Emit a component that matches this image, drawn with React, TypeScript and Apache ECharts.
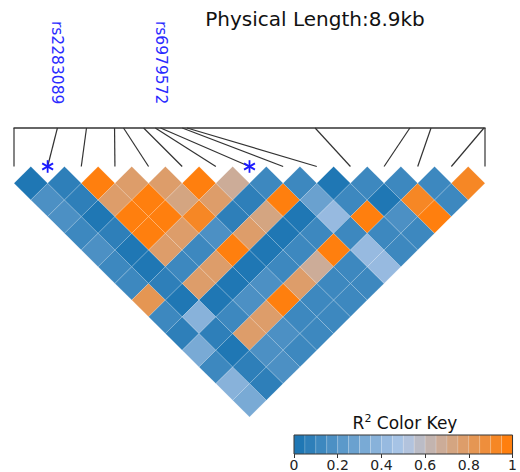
import { useEffect, useRef } from 'react';
import * as echarts from 'echarts';

// ---------------- data ----------------
const TITLE = 'Physical Length:8.9kb';
const REGION_LENGTH_BP = 8900;
// physical positions of the 15 SNPs (bp from the first SNP)
const SNP_POSITIONS_BP = [0, 820, 1370, 1900, 2070, 2450, 2670, 2770, 3180, 3270, 5690, 7480, 7880, 8880, 8900];
const LABELED_SNPS = [1, 7];
const LABELED_NAMES = ['rs2283089', 'rs6979572'];
// R2_ROWS[i] = r² of pairs (i, i+1) ... (i, 14)
const R2_ROWS: number[][] = [
  [0.02, 0.17, 0.17, 0.12, 0.17, 0.12, 0.12, 0.84, 0.12, 0.05, 0.32, 0.12, 0.37, 0.32],
  [0.07, 0.08, 0.02, 0.08, 0.02, 0.02, 0.09, 0.03, 0.37, 0.07, 0.02, 0.07, 0.05],
  [0.97, 0.76, 0.97, 0.97, 0.76, 0.12, 0.76, 0.04, 0.12, 0.76, 0.17, 0.17],
  [0.76, 0.97, 0.97, 0.76, 0.1, 0.76, 0.03, 0.17, 0.76, 0.17, 0.12],
  [0.76, 0.74, 0.92, 0.17, 0.97, 0.04, 0.17, 0.96, 0.12, 0.14],
  [0.97, 0.75, 0.09, 0.76, 0.04, 0.13, 0.76, 0.13, 0.14],
  [0.66, 0.05, 0.7, 0.03, 0.12, 0.66, 0.12, 0.12],
  [0.12, 0.97, 0.03, 0.12, 0.97, 0.12, 0.12],
  [0.12, 0.28, 0.42, 0.12, 0.42, 0.41],
  [0.03, 0.12, 0.97, 0.12, 0.12],
  [0.12, 0.03, 0.17, 0.12],
  [0.12, 0.9, 0.97],
  [0.12, 0.12],
  [0.9],
];
const KEY_TICKS = [0, 0.2, 0.4, 0.6, 0.8, 1];
const COLOR_ANCHORS = ['#1f77b4', '#aec7e8', '#ff7f0e'];
const N_COLOR_BINS = 20;

// ---------------- layout ----------------
const FONT = 'DejaVu Sans';
const MAP_LEFT = 14;
const MAP_RIGHT = 485;
const APEX_Y = 166.5;
const V_UNIT = 33.4;
const Y_MIN = -4.5;
const Y_MAX = 7.5;
const BAR_Y = -1.153;
const LABEL_Y = -4.36;
const KEY_BOX = { left: 294, top: 435, width: 222, height: 21 };

function hexToRgb(h: string) {
  const n = parseInt(h.slice(1), 16);
  return [(n >> 16) & 255, (n >> 8) & 255, n & 255];
}
function cmap(t: number) {
  const a = t <= 0.5 ? hexToRgb(COLOR_ANCHORS[0]) : hexToRgb(COLOR_ANCHORS[1]);
  const b = t <= 0.5 ? hexToRgb(COLOR_ANCHORS[1]) : hexToRgb(COLOR_ANCHORS[2]);
  const f = t <= 0.5 ? t / 0.5 : (t - 0.5) / 0.5;
  const c = a.map((v, k) => Math.round(v + (b[k] - v) * f));
  return `rgb(${c[0]},${c[1]},${c[2]})`;
}

export default function App() {
  const ref = useRef<HTMLDivElement>(null);
  useEffect(() => {
    if (!ref.current) return;
    const chart = echarts.init(ref.current, undefined, { renderer: 'svg' });
    const nSnp = SNP_POSITIONS_BP.length;
    const cells: number[][] = [];
    R2_ROWS.forEach((row, i) => row.forEach((v, k) => cells.push([i, i + 1 + k, v])));
    const pieces = Array.from({ length: N_COLOR_BINS }, (_, k) => {
      const p: any = { gte: k / N_COLOR_BINS, color: cmap(k / (N_COLOR_BINS - 1)) };
      if (k === N_COLOR_BINS - 1) p.lte = 1; else p.lt = (k + 1) / N_COLOR_BINS;
      return p;
    });
    const bins = Array.from({ length: N_COLOR_BINS }, (_, k) => [k / N_COLOR_BINS, (k + 1) / N_COLOR_BINS, (k + 0.5) / N_COLOR_BINS]);
    const physToIdx = (bp: number) => (bp / REGION_LENGTH_BP) * (nSnp - 1);

    const option: any = {
      animation: false,
      backgroundColor: '#ffffff',
      grid: [
        {
          left: MAP_LEFT,
          width: MAP_RIGHT - MAP_LEFT,
          top: APEX_Y + Y_MIN * V_UNIT,
          height: (Y_MAX - Y_MIN) * V_UNIT,
        },
        { left: KEY_BOX.left, top: KEY_BOX.top, width: KEY_BOX.width, height: KEY_BOX.height },
      ],
      xAxis: [
        { type: 'value', gridIndex: 0, min: 0, max: nSnp - 1, show: false },
        {
          type: 'value',
          gridIndex: 1,
          min: 0,
          max: 1,
          interval: 0.2,
          axisLine: { show: false },
          splitLine: { show: false },
          axisTick: { show: true, length: 4, lineStyle: { color: '#333', width: 1 }, customValues: KEY_TICKS },
          axisLabel: { fontSize: 14, color: '#222', fontFamily: FONT, margin: 4, customValues: KEY_TICKS },
        },
      ],
      yAxis: [
        { type: 'value', gridIndex: 0, min: Y_MIN, max: Y_MAX, inverse: true, show: false },
        { type: 'value', gridIndex: 1, min: 0, max: 1, show: false },
      ],
      visualMap: {
        type: 'piecewise',
        show: false,
        dimension: 2,
        seriesIndex: [0, 5],
        pieces,
      },
      graphic: [
        {
          type: 'text',
          x: 315,
          y: 18.5,
          style: { text: TITLE, fontSize: 20, fontFamily: FONT, fill: '#111', align: 'center', verticalAlign: 'middle' },
        },
        {
          type: 'text',
          x: KEY_BOX.left + KEY_BOX.width / 2,
          y: 423,
          style: {
            text: '{r|R}{s|2}{r| Color Key}',
            align: 'center',
            verticalAlign: 'middle',
            fill: '#111',
            rich: {
              r: { fontSize: 17, fontFamily: FONT, lineHeight: 20, fill: '#111' },
              s: { fontSize: 11, fontFamily: FONT, lineHeight: 20, verticalAlign: 'top', fill: '#111' },
            },
          },
        },
      ],
      series: [
        {
          type: 'custom',
          xAxisIndex: 0,
          yAxisIndex: 0,
          silent: true,
          data: cells,
          renderItem: (_p: any, api: any) => {
            const i = api.value(0);
            const j = api.value(1);
            const cx = (i + j) / 2;
            const cy = (j - i) / 2;
            const pts = [
              api.coord([cx - 0.5, cy]),
              api.coord([cx, cy - 0.5]),
              api.coord([cx + 0.5, cy]),
              api.coord([cx, cy + 0.5]),
            ];
            return {
              type: 'polygon',
              shape: { points: pts },
              style: { fill: api.visual('color'), stroke: 'rgba(255,255,255,0.25)', lineWidth: 0.6 },
            };
          },
        },
        {
          type: 'custom',
          xAxisIndex: 0,
          yAxisIndex: 0,
          silent: true,
          data: [[0, nSnp - 1]],
          renderItem: (_p: any, api: any) => {
            const a = api.coord([api.value(0), BAR_Y]);
            const b = api.coord([api.value(1), BAR_Y]);
            return {
              type: 'line',
              shape: { x1: a[0] - 0.5, y1: a[1], x2: b[0] + 0.5, y2: b[1] },
              style: { stroke: '#666', lineWidth: 2 },
            };
          },
        },
        {
          type: 'custom',
          xAxisIndex: 0,
          yAxisIndex: 0,
          silent: true,
          data: SNP_POSITIONS_BP.map((bp, k) => [k, bp]),
          renderItem: (_p: any, api: any) => {
            const top = api.coord([physToIdx(api.value(1)), BAR_Y]);
            const bot = api.coord([api.value(0), 0]);
            return {
              type: 'line',
              shape: { x1: top[0], y1: top[1], x2: bot[0], y2: bot[1] },
              style: { stroke: '#333', lineWidth: 1.2 },
            };
          },
        },
        {
          type: 'custom',
          xAxisIndex: 0,
          yAxisIndex: 0,
          silent: true,
          data: LABELED_SNPS.map((k, n) => [SNP_POSITIONS_BP[k], n]),
          renderItem: (_p: any, api: any) => {
            const pt = api.coord([physToIdx(api.value(0)), LABEL_Y]);
            return {
              type: 'text',
              x: pt[0],
              y: pt[1],
              rotation: -Math.PI / 2,
              style: {
                text: LABELED_NAMES[api.value(1)],
                fontSize: 15.5,
                fontFamily: FONT,
                fill: '#2a2aff',
                align: 'left',
                verticalAlign: 'middle',
              },
            };
          },
        },
        {
          type: 'custom',
          xAxisIndex: 0,
          yAxisIndex: 0,
          silent: true,
          z: 5,
          data: LABELED_SNPS.map((k) => [k]),
          renderItem: (_p: any, api: any) => {
            const c = api.coord([api.value(0), 0]);
            const r = 6.3;
            const spokes = [90, 30, -30].map((deg) => {
              const a = (deg * Math.PI) / 180;
              const dx = Math.cos(a) * r;
              const dy = Math.sin(a) * r;
              return {
                type: 'line',
                shape: { x1: c[0] - dx, y1: c[1] - dy, x2: c[0] + dx, y2: c[1] + dy },
                style: { stroke: '#1a1aff', lineWidth: 1.8 },
              };
            });
            return { type: 'group', children: spokes };
          },
        },
        {
          type: 'custom',
          xAxisIndex: 1,
          yAxisIndex: 1,
          silent: true,
          data: bins,
          renderItem: (_p: any, api: any) => {
            const a = api.coord([api.value(0), 1]);
            const b = api.coord([api.value(1), 0]);
            return {
              type: 'rect',
              shape: { x: a[0], y: a[1], width: b[0] - a[0], height: b[1] - a[1] },
              style: { fill: api.visual('color'), stroke: 'rgba(255,255,255,0.25)', lineWidth: 0.6 },
            };
          },
        },
        {
          type: 'custom',
          xAxisIndex: 1,
          yAxisIndex: 1,
          silent: true,
          z: 5,
          data: [[0, 1]],
          renderItem: (_p: any, api: any) => {
            const a = api.coord([api.value(0), 1]);
            const b = api.coord([api.value(1), 0]);
            return {
              type: 'rect',
              shape: { x: a[0], y: a[1], width: b[0] - a[0], height: b[1] - a[1] },
              style: { fill: 'none', stroke: '#333', lineWidth: 1 },
            };
          },
        },
      ],
    };
    chart.setOption(option);
    return () => chart.dispose();
  }, []);
  return (
    <div
      ref={ref}
      style={{ position: 'fixed', left: 0, top: 0, width: 520, height: 472, background: '#fff' }}
    />
  );
}
